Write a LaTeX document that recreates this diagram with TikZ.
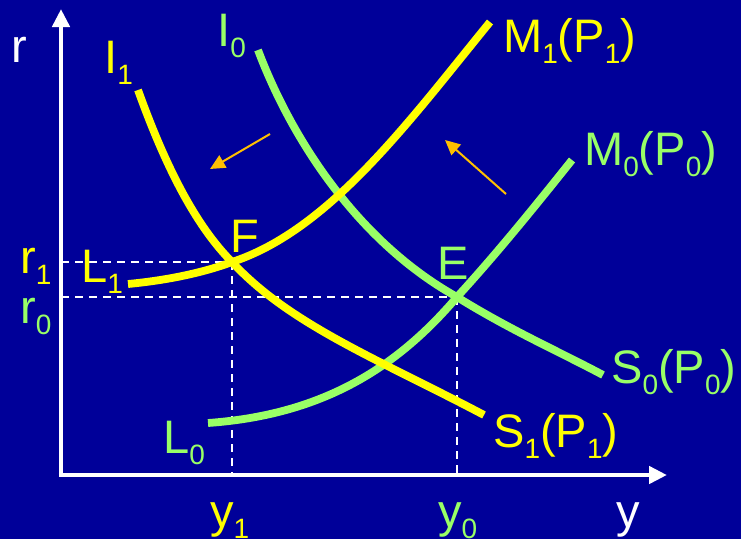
\documentclass[tikz,border=0pt]{standalone}
\usepackage{fontspec}
\setmainfont{Liberation Sans}
\usetikzlibrary{arrows.meta}
\definecolor{bgblue}{RGB}{0,0,153}
\definecolor{lgreen}{RGB}{153,255,102}
\definecolor{yel}{RGB}{255,255,0}
\definecolor{orng}{RGB}{255,192,0}
\newcommand{\lsub}[1]{\raisebox{-0.24em}{\fontsize{28}{28}\selectfont #1}}
\tikzset{
  lbl/.style={inner sep=0pt, anchor=base west, font=\fontsize{47}{47}\selectfont},
  axis/.style={white, line width=4.5pt, -{Triangle[length=18pt,width=17pt]}},
  guide/.style={white, line width=1.8pt, dash pattern=on 8pt off 6pt},
  ycurve/.style={yel, line width=7.8pt},
  gcurve/.style={lgreen, line width=7.8pt},
  shiftarrow/.style={orng, line width=2pt, -{Triangle[length=15pt,width=14pt]}}
}
\begin{document}
\begin{tikzpicture}[x=1pt,y=-1pt]
\fill[bgblue] (0,0) rectangle (741,539);
\useasboundingbox (0,0) rectangle (741,539);
% points
\coordinate (O) at (61,475);
\coordinate (ytop) at (61,9);
\coordinate (xend) at (667,475);
\coordinate (F) at (232,262);
\coordinate (E) at (457,297);
\coordinate (r1) at (61,262);
\coordinate (r0) at (61,297);
\coordinate (y1) at (232,475);
\coordinate (y0) at (457,475);
% guides
\draw[guide] (r1) -- (F);
\draw[guide] (r0) -- (E);
\draw[guide] (F) -- (y1);
\draw[guide] (E) -- (y0);
% axes
\draw[axis] (O) -- (ytop);
\draw[axis] ([xshift=-2.25pt]O) -- (xend);
% curves
\coordinate (I1s) at (138,90);
\coordinate (S1e) at (484,415);
\coordinate (I0s) at (258,50);
\coordinate (S0e) at (603,375);
\coordinate (L1s) at (128,284);
\coordinate (M1e) at (490,22);
\coordinate (L0s) at (208,423);
\coordinate (M0e) at (572,160);
\draw[gcurve] (I0s) .. controls (290,135) and (355,240) .. (E) .. controls (510,330) and (560,352) .. (S0e);
\draw[gcurve] (L0s) .. controls (320,415) and (395,370) .. (E) .. controls (500,250) and (540,200) .. (M0e);
\draw[ycurve] (I1s) .. controls (165,165) and (195,225) .. (F) .. controls (290,325) and (380,360) .. (S1e);
\draw[ycurve] (L1s) .. controls (170,280) and (205,272) .. (F) .. controls (330,230) and (410,120) .. (M1e);
% shift arrows
\coordinate (a1s) at (270,134);
\coordinate (a1e) at (210,169);
\coordinate (a2s) at (506,194);
\coordinate (a2e) at (445,140);
\draw[shiftarrow] (a1s) -- (a1e);
\draw[shiftarrow] (a2s) -- (a2e);
% labels
\node[lbl, white] (lr) at (11,62) {r};
\node[lbl, yel] (lI1) at (104,73) {I\lsub{1}};
\node[lbl, lgreen] (lI0) at (217,46) {I\lsub{0}};
\node[lbl, yel] (lM1) at (503,52) {M\lsub{1}(P\lsub{1})};
\node[lbl, lgreen] (lM0) at (584,165) {M\lsub{0}(P\lsub{0})};
\node[lbl, yel] (lF) at (230,252) {F};
\node[lbl, lgreen] (lE) at (437,279) {E};
\node[lbl, yel] (lL1) at (81,282) {L\lsub{1}};
\node[lbl, yel] (lr1) at (20,273) {r\lsub{1}};
\node[lbl, lgreen] (lr0) at (20,323) {r\lsub{0}};
\node[lbl, lgreen] (lL0) at (163,453) {L\lsub{0}};
\node[lbl, yel] (ly1) at (210,527) {y\lsub{1}};
\node[lbl, lgreen] (ly0) at (438,527) {y\lsub{0}};
\node[lbl, white] (ly) at (616,527) {y};
\node[lbl, lgreen] (lS0) at (611,383) {S\lsub{0}(P\lsub{0})};
\node[lbl, yel] (lS1) at (493,447) {S\lsub{1}(P\lsub{1})};
\end{tikzpicture}
\end{document}
